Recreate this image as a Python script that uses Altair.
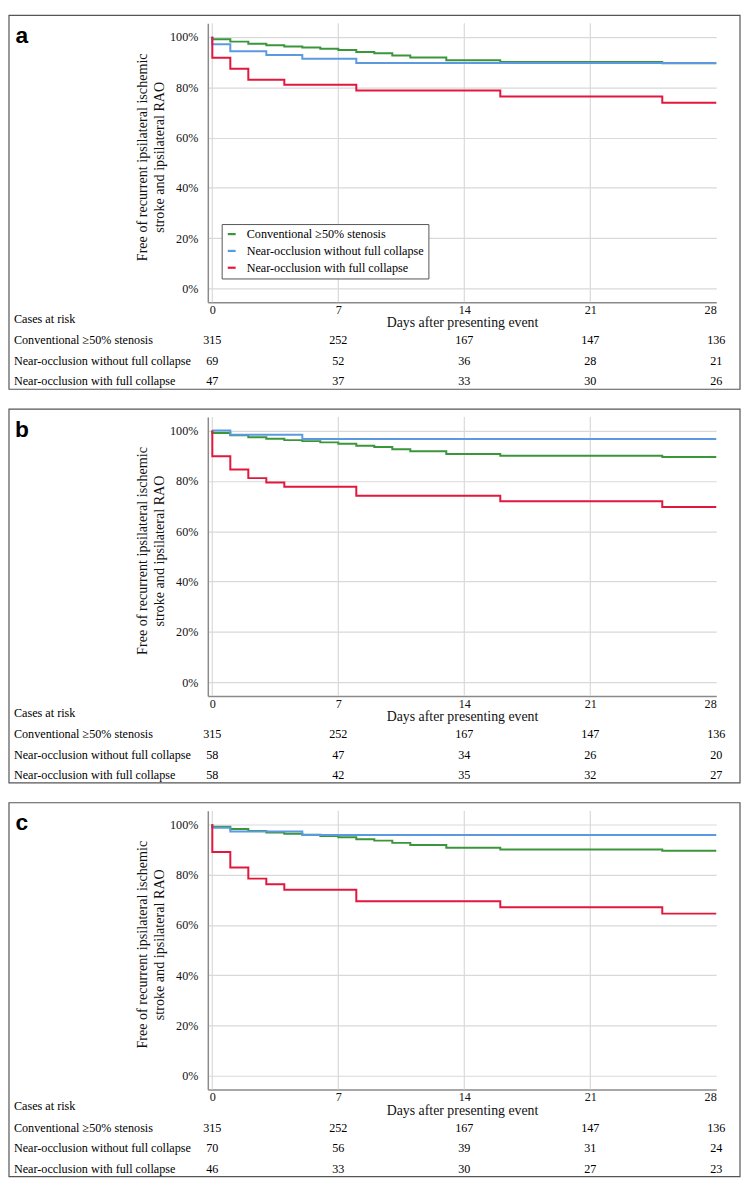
import altair as alt
import pandas as pd

# ---------------- data ----------------
GROUPS = ["Conventional ≥50% stenosis",
          "Near-occlusion without full collapse",
          "Near-occlusion with full collapse"]
COLORS = ["#3a963a", "#5b9ae0", "#e2173d"]
TICK_DAYS = [0, 7, 14, 21, 28]
GRID_DAYS = [0, 7, 14, 21]
Y_TICKS = [0, 20, 40, 60, 80, 100]

# Conventional >=50% stenosis (same group in all three panels)
conv_t = [0, 0, 1, 2, 3, 4, 5, 6, 7, 8, 9, 10, 11, 13, 16, 25, 28]
conv_s = [100, 99.0, 98.1, 97.3, 96.7, 96.2, 95.8, 95.3, 94.8, 94.0, 93.5, 92.6, 91.8, 90.7, 90.0, 89.5, 89.5]

# panel a
a_without_t = [0, 0, 1, 3, 5, 8, 28]
a_without_s = [100, 97.1, 94.3, 92.8, 91.3, 89.6, 89.6]
a_with_t = [0, 0, 1, 2, 4, 8, 16, 25, 28]
a_with_s = [100, 91.7, 87.3, 83.0, 81.0, 78.7, 76.3, 73.8, 73.8]

# panel b
b_without_t = [0, 1, 5, 28]
b_without_s = [100, 98.3, 96.6, 96.6]
b_with_t = [0, 0, 1, 2, 3, 4, 8, 16, 25, 28]
b_with_s = [100, 89.8, 84.5, 81.1, 79.4, 77.7, 74.1, 71.9, 69.6, 69.6]

# panel c
c_without_t = [0, 0, 1, 5, 28]
c_without_s = [100, 98.6, 97.1, 95.7, 95.7]
c_with_t = [0, 0, 1, 2, 3, 4, 8, 16, 25, 28]
c_with_s = [100, 89.0, 82.8, 78.4, 76.2, 74.0, 69.4, 67.0, 64.5, 64.5]

# cases at risk
risk_conv = [315, 252, 167, 147, 136]
a_risk_without = [69, 52, 36, 28, 21]
a_risk_with = [47, 37, 33, 30, 26]
b_risk_without = [58, 47, 34, 26, 20]
b_risk_with = [58, 42, 35, 32, 27]
c_risk_without = [70, 56, 39, 31, 24]
c_risk_with = [46, 33, 30, 27, 23]

Y_TITLE = ["Free of recurrent ipsilateral ischemic", "stroke and ipsilateral RAO"]
X_TITLE = "Days after presenting event"
RISK_TITLE = "Cases at risk"

# ---------------- layout ----------------
W, H = 514, 282
SERIF = "Liberation Serif"
FS = 12.3
BOX = dict(left=-201, right=W + 24, top=-8, bottom=370)
ROW_Y = [320.4, 341.3, 361.9]
RISK_TITLE_Y = 299

X_ENC = alt.X("day:Q",
              scale=alt.Scale(domain=[-0.25, 28], nice=False, zero=False),
              axis=alt.Axis(values=TICK_DAYS, title=X_TITLE, grid=False, ticks=False,
                            labelPadding=1.5, titleY=21, titleBaseline="middle"))


def panel(letter, curves, risks):
    rows = []
    for g, (t, s) in zip(GROUPS, curves):
        for i, (tt, ss) in enumerate(zip(t, s)):
            rows.append({"group": g, "day": tt, "surv": ss, "idx": i})
    df = pd.DataFrame(rows)

    one = pd.DataFrame({"k": [0]})
    border = alt.Chart(one).mark_rect(fillOpacity=0, stroke="#555555", strokeWidth=1.2).encode(
        x=alt.value(BOX["left"]), x2=alt.value(BOX["right"]),
        y=alt.value(BOX["top"]), y2=alt.value(BOX["bottom"]))

    vgrid = alt.Chart(pd.DataFrame({"day": GRID_DAYS})).mark_rule(
        color="#d9d9d9", strokeWidth=1.2).encode(x=X_ENC)

    lines = alt.Chart(df).mark_line(interpolate="step-after", strokeWidth=2).encode(
        x=X_ENC,
        y=alt.Y("surv:Q",
                scale=alt.Scale(domain=[-5.4, 105.4], nice=False, zero=False),
                axis=alt.Axis(values=Y_TICKS, labelExpr="datum.value + '%'", title=Y_TITLE,
                              ticks=False, labelPadding=10, titlePadding=3, grid=True,
                              titleY=H / 2 - 6)),
        color=alt.Color("group:N",
                        scale=alt.Scale(domain=GROUPS, range=COLORS),
                        legend=alt.Legend(orient="none", legendX=14, legendY=203, title=None,
                                          direction="vertical",
                                          symbolType="stroke", symbolStrokeWidth=2.2, symbolSize=64,
                                          labelFont=SERIF, labelFontSize=FS, labelOffset=9,
                                          labelLimit=400, strokeColor="#555555", fillColor="white",
                                          padding=4, rowPadding=4)),
        order=alt.Order("idx:Q"))

    letter_mark = alt.Chart(one).mark_text(text=letter, font="Liberation Sans", fontWeight="bold",
                                           fontSize=23, align="center", baseline="alphabetic").encode(
        x=alt.value(-188), y=alt.value(20))

    risk_title = alt.Chart(one).mark_text(text=RISK_TITLE, font=SERIF, fontSize=FS, align="left",
                                          baseline="middle").encode(
        x=alt.value(-196), y=alt.value(RISK_TITLE_Y))

    layers = [border, vgrid, lines, letter_mark, risk_title]
    for g, counts, yy in zip(GROUPS, risks, ROW_Y):
        lab = alt.Chart(one).mark_text(text=g, font=SERIF, fontSize=FS, align="left",
                                       baseline="middle").encode(
            x=alt.value(-196), y=alt.value(yy))
        nums = alt.Chart(pd.DataFrame({"day": TICK_DAYS, "n": [str(c) for c in counts]})).mark_text(
            font=SERIF, fontSize=FS, align="center", baseline="middle").encode(
            x=X_ENC, y=alt.value(yy), text="n:N")
        layers += [lab, nums]
    return alt.layer(*layers).properties(width=W, height=H)


pa = panel("a", [(conv_t, conv_s), (a_without_t, a_without_s), (a_with_t, a_with_s)],
           [risk_conv, a_risk_without, a_risk_with])
pb = panel("b", [(conv_t, conv_s), (b_without_t, b_without_s), (b_with_t, b_with_s)],
           [risk_conv, b_risk_without, b_risk_with])
pc = panel("c", [(conv_t, conv_s), (c_without_t, c_without_s), (c_with_t, c_with_s)],
           [risk_conv, c_risk_without, c_risk_with])

chart = alt.vconcat(pa, pb, pc, spacing=18).properties(padding=0).configure_view(
    stroke=None).configure_axis(
    labelFont=SERIF, labelFontSize=FS, labelColor="#111111",
    titleFont=SERIF, titleFontSize=14, titleFontWeight="normal", titleColor="#111111",
    gridColor="#d9d9d9", gridWidth=1.2, domainColor="#8a8a8a", domainWidth=1.5,
    labelOverlap=False
).configure_axisY(titleFontSize=14.3, titleLineHeight=17)

chart.save("out.html", embed_options={"renderer": "svg", "actions": False})
